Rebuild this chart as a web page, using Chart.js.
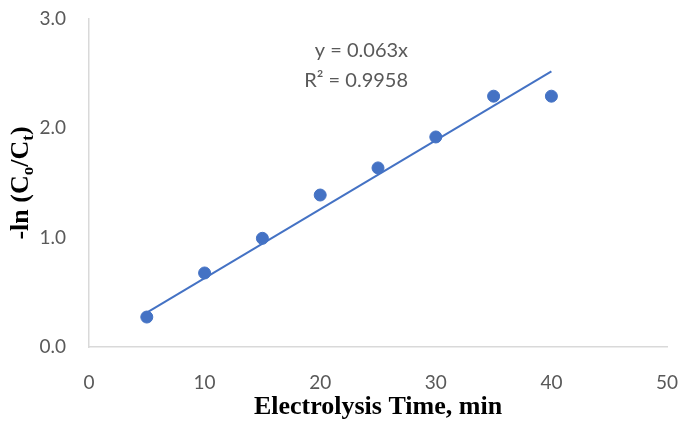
<!DOCTYPE html>
<html>
<head>
<meta charset="utf-8">
<script src="https://cdn.jsdelivr.net/npm/chart.js@4"></script>
<style>
  html, body { margin: 0; padding: 0; background: #fff; }
  #wrap { width: 680px; height: 423px; }
</style>
</head>
<body>
<div id="wrap"><canvas id="kineticsChart"></canvas></div>
<script>
// Measured points
const timeMin = [5, 10, 15, 20, 25, 30, 35, 40];
const lnRatio = [0.274, 0.677, 0.994, 1.39, 1.638, 1.921, 2.294, 2.294];

// Linear trendline (through origin), drawn over the data span
const trendX = [5, 40];
const trendY = [0.315, 2.52];
const trendLabel = ['y = 0.063x', 'R\u00b2 = 0.9958'];

const xTicks = [0, 10, 20, 30, 40, 50];
const yTicks = [0, 1, 2, 3];

const blue = '#4472C4';
const gray = '#595959';
const axisGray = '#d9d9d9';

// y-axis title with subscripts, plus trendline equation
const annotations = {
  id: 'annotations',
  afterDraw(chart) {
    const ctx = chart.ctx;
    const { x, y } = chart.scales;
    const area = chart.chartArea;

    ctx.save();
    ctx.fillStyle = gray;
    ctx.font = '20px Lato';
    ctx.textAlign = 'right';
    ctx.textBaseline = 'middle';
    ctx.fillText(trendLabel[0], x.getPixelForValue(27.6), y.getPixelForValue(2.715));
    ctx.fillText(trendLabel[1], x.getPixelForValue(27.6), y.getPixelForValue(2.44));
    ctx.restore();

    // rotated y title: -ln (Co/Ct)
    const parts = [
      { t: '-ln (C', sub: false },
      { t: 'o', sub: true },
      { t: '/C', sub: false },
      { t: 't', sub: true },
      { t: ')', sub: false }
    ];
    const big = 'bold 26px "Liberation Serif"';
    const small = 'bold 17px "Liberation Serif"';
    ctx.save();
    let total = 0;
    parts.forEach(p => {
      ctx.font = p.sub ? small : big;
      p.w = ctx.measureText(p.t).width;
      total += p.w;
    });
    ctx.translate(28, (area.top + area.bottom) / 2);
    ctx.rotate(-Math.PI / 2);
    ctx.fillStyle = '#000';
    ctx.textBaseline = 'alphabetic';
    ctx.textAlign = 'left';
    let cx = -total / 2;
    parts.forEach(p => {
      ctx.font = p.sub ? small : big;
      ctx.fillText(p.t, cx, p.sub ? 5 : 0);
      cx += p.w;
    });
    ctx.restore();
  }
};

new Chart(document.getElementById('kineticsChart'), {
  type: 'scatter',
  data: {
    datasets: [
      {
        label: 'data',
        data: timeMin.map((t, i) => ({ x: t, y: lnRatio[i] })),
        backgroundColor: blue,
        borderColor: blue,
        pointRadius: 6,
        pointHoverRadius: 6,
        order: 1
      },
      {
        label: 'trend',
        type: 'line',
        data: trendX.map((t, i) => ({ x: t, y: trendY[i] })),
        borderColor: blue,
        borderWidth: 2,
        pointRadius: 0,
        fill: false,
        order: 2
      }
    ]
  },
  options: {
    responsive: true,
    maintainAspectRatio: false,
    animation: false,
    layout: { padding: { top: 19, right: 13, left: 0, bottom: 0 } },
    plugins: {
      legend: { display: false },
      tooltip: { enabled: false }
    },
    scales: {
      x: {
        type: 'linear',
        min: 0,
        max: 50,
        afterBuildTicks: axis => { axis.ticks = xTicks.map(v => ({ value: v })); },
        afterFit: axis => {
          axis.height = 76;
          axis.paddingLeft = 0;
          axis.paddingRight = 0;
        },
        grid: { display: false, drawTicks: false },
        border: { display: true, color: axisGray, width: 1.5 },
        ticks: {
          color: gray,
          font: { family: 'Lato', size: 19 },
          padding: 24
        },
        title: {
          display: true,
          text: 'Electrolysis Time, min',
          color: '#000',
          font: { family: '"Liberation Serif"', size: 26, weight: 'bold' },
          padding: { top: 0, bottom: 0 }
        }
      },
      y: {
        type: 'linear',
        min: 0,
        max: 3,
        afterBuildTicks: axis => { axis.ticks = yTicks.map(v => ({ value: v })); },
        afterFit: axis => {
          axis.width = 89;
          axis.paddingTop = 0;
          axis.paddingBottom = 0;
        },
        grid: { display: false, drawTicks: false },
        border: { display: true, color: axisGray, width: 1.5 },
        ticks: {
          color: gray,
          font: { family: 'Lato', size: 19 },
          padding: 23,
          callback: v => v.toFixed(1)
        }
      }
    }
  },
  plugins: [annotations]
});
</script>
</body>
</html>
